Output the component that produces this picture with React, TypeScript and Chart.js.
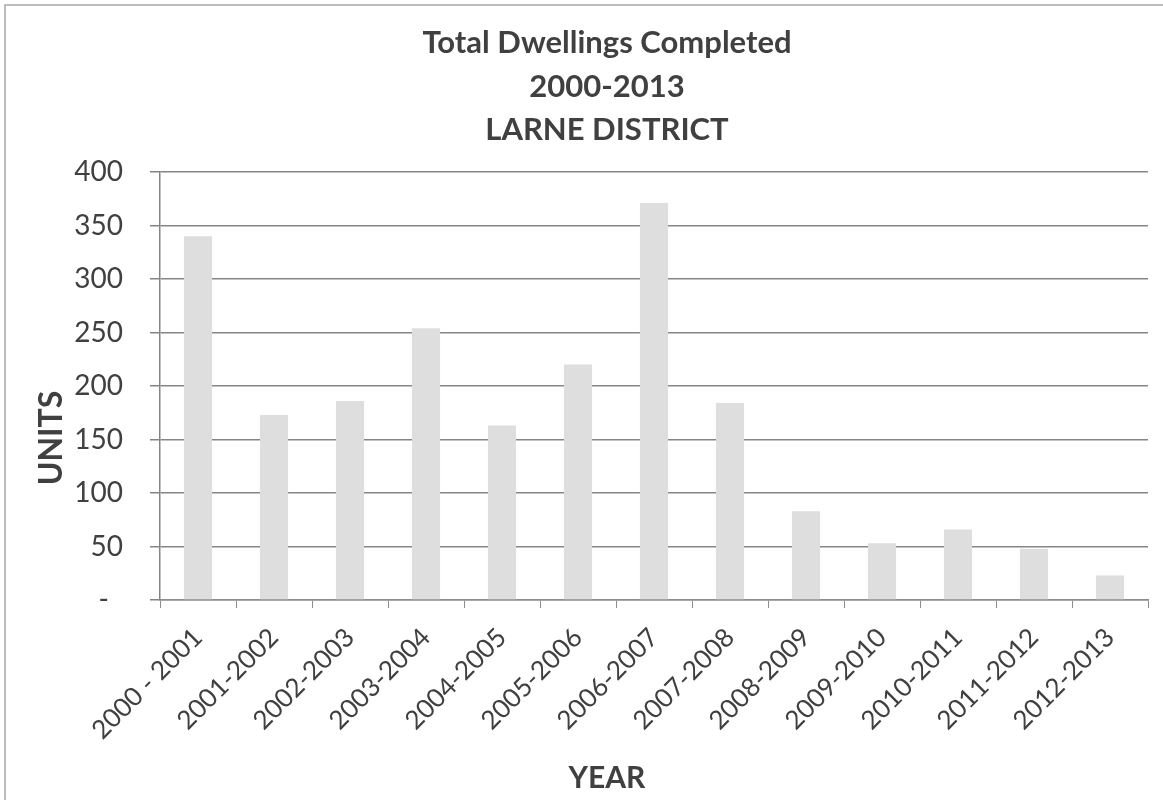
import React, { useEffect, useRef } from "react";
import { Chart, registerables } from "chart.js";

Chart.register(...registerables);

const categories = [
  "2000 - 2001", "2001-2002", "2002-2003", "2003-2004", "2004-2005",
  "2005-2006", "2006-2007", "2007-2008", "2008-2009", "2009-2010",
  "2010-2011", "2011-2012", "2012-2013",
];
const units = [340, 173, 186, 254, 163, 220, 371, 184, 83, 53, 66, 48, 23];
const titleLines = ["Total Dwellings Completed", "2000-2013", "LARNE DISTRICT"];
const yTitle = "UNITS";
const xTitle = "YEAR";
const yMin = 0;
const yMax = 400;
const yStep = 50;

const TEXT = "#404040";
const FONT = "Lato, 'Open Sans', sans-serif";

const decorPlugin = {
  id: "decor",
  beforeDraw(chart: any) {
    const ctx = chart.ctx;
    ctx.save();
    ctx.fillStyle = "#ffffff";
    ctx.fillRect(0, 0, chart.width, chart.height);
    ctx.strokeStyle = "#a6a6a6";
    ctx.lineWidth = 1.5;
    ctx.beginPath();
    ctx.moveTo(5, chart.height);
    ctx.lineTo(5, 5);
    ctx.lineTo(chart.width, 5);
    ctx.stroke();
    ctx.restore();
  },
  afterDraw(chart: any) {
    const ctx = chart.ctx;
    ctx.save();
    ctx.fillStyle = TEXT;
    ctx.textAlign = "center";
    ctx.textBaseline = "middle";
    ctx.font = `bold 31px ${FONT}`;
    const cx = 607;
    titleLines.forEach((t, i) => {
      ctx.fillText(t, cx, 43 + i * 43.5);
    });
    ctx.font = `bold 30px ${FONT}`;
    ctx.fillText(xTitle, cx, 778);
    ctx.translate(52, 438);
    ctx.rotate(-Math.PI / 2);
    ctx.font = `bold 32px ${FONT}`;
    ctx.fillText(yTitle, 0, 0);
    ctx.restore();
  },
};

export default function App() {
  const ref = useRef<HTMLCanvasElement | null>(null);
  useEffect(() => {
    if (!ref.current) return;
    const chart = new Chart(ref.current, {
      type: "bar",
      data: {
        labels: categories,
        datasets: [
          {
            data: units,
            backgroundColor: "#dedede",
            borderWidth: 0,
            categoryPercentage: 1,
            barPercentage: 0.37,
          },
        ],
      },
      options: {
        animation: false,
        responsive: false,
        maintainAspectRatio: false,
        layout: { padding: { top: 172, right: 15, left: 0, bottom: 0 } },
        plugins: {
          legend: { display: false },
          title: { display: false },
          tooltip: { enabled: false },
        },
        scales: {
          x: {
            offset: true,
            grid: {
              offset: true,
              drawOnChartArea: false,
              drawTicks: true,
              tickLength: 8,
              color: "#8c8c8c",
              lineWidth: 1,
            },
            border: { display: true, color: "#8c8c8c", width: 1.5 },
            ticks: {
              autoSkip: false,
              minRotation: 45,
              maxRotation: 45,
              padding: 14,
              color: TEXT,
              font: { family: FONT, size: 26 },
            },
            afterFit(scale: any) {
              scale.height = 200;
            },
          },
          y: {
            min: yMin,
            max: yMax,
            ticks: {
              stepSize: yStep,
              padding: 27,
              color: TEXT,
              font: { family: FONT, size: 28 },
              callback: (v: any) => (Number(v) === 0 ? "-\u2002" : String(v)),
            },
            grid: {
              color: "#858585",
              lineWidth: 1.5,
              tickLength: 10,
              drawTicks: true,
            },
            border: { display: true, color: "#858585", width: 1.5 },
            afterFit(scale: any) {
              scale.width = 160;
            },
          },
        },
      },
      plugins: [decorPlugin],
    });
    return () => chart.destroy();
  }, []);
  return (
    <div style={{ position: "fixed", left: 0, top: 0, width: 1163, height: 800, background: "#fff" }}>
      <canvas ref={ref} width={1163} height={800} style={{ width: 1163, height: 800, display: "block" }} />
    </div>
  );
}
